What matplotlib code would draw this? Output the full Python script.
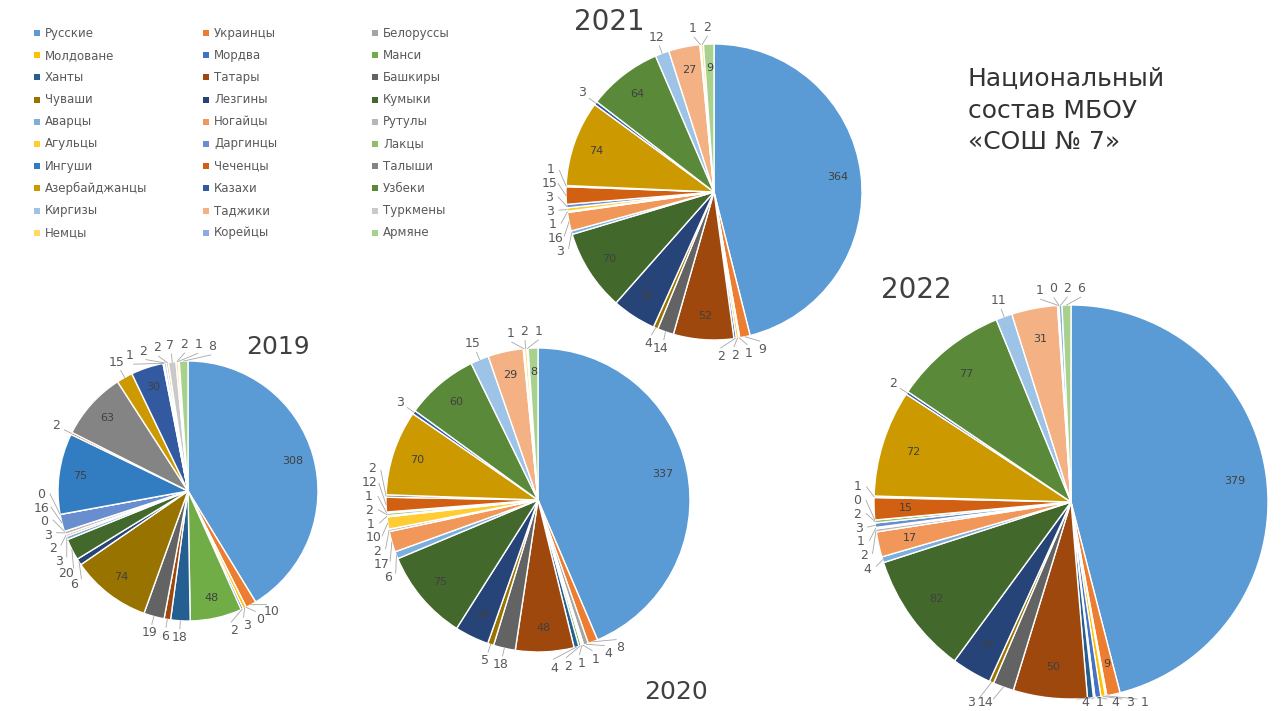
import numpy as np
import matplotlib.pyplot as plt

W, H = 1283, 711

nations = ['Русские', 'Украинцы', 'Белоруссы', 'Молдоване', 'Мордва', 'Манси',
           'Ханты', 'Татары', 'Башкиры', 'Чуваши', 'Лезгины', 'Кумыки',
           'Аварцы', 'Ногайцы', 'Рутулы', 'Агульцы', 'Даргинцы', 'Лакцы',
           'Ингуши', 'Чеченцы', 'Талыши', 'Азербайджанцы', 'Казахи', 'Узбеки',
           'Киргизы', 'Таджики', 'Туркмены', 'Немцы', 'Корейцы', 'Армяне']
colors = ['#5B9BD5', '#ED7D31', '#A5A5A5', '#FFC000', '#4472C4', '#70AD47',
          '#255E91', '#9E480E', '#636363', '#997300', '#264478', '#43682B',
          '#7CAFDD', '#F1975A', '#B7B7B7', '#FFCD33', '#698ED0', '#8CC168',
          '#327DC2', '#D26012', '#848484', '#CC9A00', '#335AA1', '#5A8A39',
          '#9DC3E6', '#F4B183', '#C9C9C9', '#FFD966', '#8FAADC', '#A9D18E']

nan = np.nan
# nan = пустая ячейка (нет подписи), 0 = подпись "0"
y2019 = [308, 10, 0, 3, 2, 48, 18, 6, 19, 74, 6, 20, 3, 2, 3, 0, 16, 0,
         75, 2, 63, 15, 30, 1, 2, 2, 7, 2, 1, 8]
y2020 = [337, 8, 4, 1, 1, 2, 4, 48, 18, 5, 28, 75, 6, 17, 2, 10, 1, 2,
         1, 12, 2, 70, 3, 60, 15, 29, 1, 2, 1, 8]
y2021 = [364, 9, 1, 2, 2, nan, nan, 52, 14, 4, 38, 70, 3, 16, 1, 3, 3, nan,
         nan, 15, 1, 74, 3, 64, 12, 27, 1, 2, nan, 9]
y2022 = [379, 9, 1, 3, 4, 1, 4, 50, 14, 3, 27, 82, 4, 17, 2, 1, 3, 2,
         0, 15, 1, 72, 2, 77, 11, 31, 1, 0, 2, 6]

title = ['Национальный', 'состав МБОУ', '«СОШ № 7»']

# стиль: центр и радиус круга в пикселях, положение года
pies = [
    (y2019, dict(c=(188, 491), r=130, year='2019', tpos=(278, 347), fs=18, inside=[])),
    (y2020, dict(c=(538, 500), r=152, year='2020', tpos=(676, 692), fs=18, inside=['Армяне'])),
    (y2021, dict(c=(714, 192), r=148, year='2021', tpos=(609, 22), fs=20, inside=['Армяне'])),
    (y2022, dict(c=(1071, 502), r=197, year='2022', tpos=(916, 290), fs=20,
                 inside=['Украинцы', 'Чеченцы', 'Ногайцы'])),
]

plt.rcParams['font.family'] = ['DejaVu Sans']
TXT = '#595959'
BOTTOM = 9  # нижний край для подписей


def spread(pref, gap):
    # раздвигаем подписи, чтобы не налезали друг на друга
    clusters = []
    for i, p in enumerate(pref):
        clusters.append([p, [i]])
        while len(clusters) > 1:
            a, b = clusters[-2], clusters[-1]
            if a[0] + len(a[1]) * gap <= b[0]:
                break
            members = a[1] + b[1]
            start = np.mean([pref[m] - k * gap for k, m in enumerate(members)])
            clusters[-2:] = [[start, members]]
    out = np.zeros(len(pref))
    for start, members in clusters:
        for k, m in enumerate(members):
            out[m] = start + k * gap
    return out


def draw_pie(ax, vals, st):
    vals = np.array(vals, float)
    keep = ~np.isnan(vals)
    v = vals[keep]
    cols = [c for c, k in zip(colors, keep) if k]
    names = [n for n, k in zip(nations, keep) if k]
    cx, cy = st['c'][0], H - st['c'][1]
    r = st['r']
    wedges, _ = ax.pie(v, colors=cols, startangle=90, counterclock=False,
                       center=(cx, cy), radius=r,
                       wedgeprops=dict(edgecolor='white', linewidth=1))
    mids = np.array([(w.theta1 + w.theta2) / 2 for w in wedges])
    cw = (90 - mids) % 360
    inside = [(val >= 25) or (nm in st['inside']) for val, nm in zip(v, names)]

    for val, m, ins in zip(v, mids, inside):
        if ins:
            t = np.radians(m)
            ax.text(cx + 0.84 * r * np.cos(t), cy + 0.84 * r * np.sin(t), f'{val:g}',
                    ha='center', va='center', fontsize=8, color='#404040')

    order = sorted([i for i in range(len(v)) if not inside[i]], key=lambda i: cw[i])
    rl = r + 17
    gap = np.degrees(14 / rl)
    pos = spread([cw[i] for i in order], gap)
    tl = np.radians(90 - pos)
    lx = cx + rl * np.cos(tl)
    ly = cy + rl * np.sin(tl)
    ex = cx + (r + 8) * np.cos(tl)
    ey = cy + (r + 8) * np.sin(tl)

    # подписи у нижнего края рисунка выносим вбок по горизонтали
    low = ly < BOTTOM + 14
    for side in (1, -1):
        ids = [k for k in range(len(order)) if low[k] and (lx[k] - cx) * side >= 0]
        ids.sort(key=lambda k: (lx[k] - cx) * side)
        prev = None
        for k in ids:
            ly[k] = BOTTOM
            x = lx[k] + side * 12
            if prev is not None and (x - prev) * side < 15:
                x = prev + side * 15
            lx[k] = x
            ex[k], ey[k] = x - side * 8, BOTTOM + 3
            prev = x

    for k, i in enumerate(order):
        tm = np.radians(mids[i])
        ax.plot([cx + r * np.cos(tm), ex[k]], [cy + r * np.sin(tm), ey[k]],
                color='#A6A6A6', lw=0.6)
        ax.text(lx[k], ly[k], f'{v[i]:g}', ha='center', va='center',
                fontsize=9, color=TXT)

    ax.text(st['tpos'][0], H - st['tpos'][1], st['year'], ha='center', va='center',
            fontsize=st['fs'], color='#404040')


fig = plt.figure(figsize=(W / 100, H / 100), dpi=100)
ax = fig.add_axes([0, 0, 1, 1])

for vals, st in pies:
    draw_pie(ax, vals, st)

# легенда: 3 колонки, по строкам
for k, (nm, col) in enumerate(zip(nations, colors)):
    row, c = divmod(k, 3)
    x = 37 + 169 * c
    y = H - (33 + 22.2 * row)
    ax.scatter([x], [y], marker='s', s=24, color=col, linewidths=0)
    ax.text(x + 8, y, nm, ha='left', va='center', fontsize=8.5, color=TXT)

for k, line in enumerate(title):
    ax.text(968, H - (79 + 31.5 * k), line, ha='left', va='center',
            fontsize=18, color='#333333')

ax.set_xlim(0, W)
ax.set_ylim(0, H)
ax.set_aspect('equal')
ax.axis('off')

fig.savefig('out.png', dpi=100)
